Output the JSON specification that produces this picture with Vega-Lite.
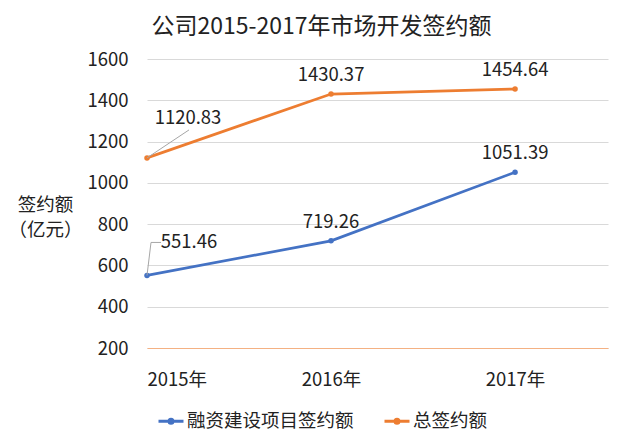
{
  "$schema": "https://vega.github.io/schema/vega-lite/v6.json",
  "autosize": {"type": "none"},
  "width": 461,
  "height": 289,
  "padding": {"left": 147, "top": 59, "right": 24, "bottom": 99},
  "background": "white",
  "config": {
    "font": "Noto Sans CJK SC",
    "view": {"stroke": null},
    "text": {"font": "Noto Sans CJK SC"}
  },
  "title": {
    "text": "公司2015-2017年市场开发签约额",
    "fontSize": 23,
    "fontWeight": "normal",
    "color": "#222222",
    "anchor": "middle",
    "dx": -56,
    "offset": 11,
    "font": "Noto Sans CJK SC"
  },
  "data": {
    "values": [
      {"year": 2015, "series": "融资建设项目签约额", "value": 551.46},
      {"year": 2016, "series": "融资建设项目签约额", "value": 719.26},
      {"year": 2017, "series": "融资建设项目签约额", "value": 1051.39},
      {"year": 2015, "series": "总签约额", "value": 1120.83},
      {"year": 2016, "series": "总签约额", "value": 1430.37},
      {"year": 2017, "series": "总签约额", "value": 1454.64}
    ]
  },
  "encoding": {
    "x": {
      "field": "year",
      "type": "quantitative",
      "scale": {"domain": [2015, 2017.505], "nice": false, "zero": false},
      "axis": {
        "title": null,
        "values": [2015, 2016, 2017],
        "labelExpr": "datum.value + '年'",
        "grid": false,
        "ticks": false,
        "domain": true,
        "domainColor": "#F4B183",
        "domainWidth": 1,
        "labelFontSize": 18.5,
        "labelColor": "#222222",
        "labelPadding": 22,
        "labelFont": "Noto Sans CJK SC"
      }
    },
    "y": {
      "field": "value",
      "type": "quantitative",
      "scale": {"domain": [200, 1600], "nice": false, "zero": false},
      "axis": {
        "values": [200, 400, 600, 800, 1000, 1200, 1400, 1600],
        "format": "d",
        "grid": true,
        "gridColor": "#D9D9D9",
        "gridWidth": 1,
        "ticks": false,
        "domain": false,
        "labelFontSize": 18.5,
        "labelColor": "#222222",
        "labelPadding": 19,
        "labelFont": "Noto Sans CJK SC",
        "title": ["签约额", "（亿元）"],
        "titleAngle": 0,
        "titleAlign": "center",
        "titleBaseline": "top",
        "titleX": -102,
        "titleY": 136,
        "titleFontSize": 18.5,
        "titleFontWeight": "normal",
        "titleColor": "#222222",
        "titleLineHeight": 25,
        "titleFont": "Noto Sans CJK SC"
      }
    },
    "color": {
      "field": "series",
      "type": "nominal",
      "scale": {"domain": ["融资建设项目签约额", "总签约额"], "range": ["#4472C4", "#ED7D31"]},
      "legend": {
        "title": null,
        "orient": "none",
        "direction": "horizontal",
        "legendX": 10,
        "legendY": 348,
        "symbolType": "M-1,0H1M-0.16,0A0.16,0.16 0 1,1 0.16,0A0.16,0.16 0 1,1 -0.16,0",
        "symbolSize": 625,
        "symbolStrokeWidth": 3,
        "labelFontSize": 18.5,
        "labelColor": "#222222",
        "labelFont": "Noto Sans CJK SC",
        "labelOffset": 2,
        "columnPadding": 24,
        "labelLimit": 400
      }
    }
  },
  "layer": [
    {
      "mark": {"type": "line", "strokeWidth": 2.75, "point": {"filled": true, "size": 30}}
    },
    {
      "transform": [{"filter": "datum.year == 2015 && datum.series == '总签约额'"}],
      "mark": {"type": "rule", "color": "#A6A6A6", "strokeWidth": 1, "x2Offset": 42, "y2Offset": -28},
      "encoding": {
        "x2": {"field": "year"},
        "y2": {"field": "value"},
        "color": {"value": "#A6A6A6"}
      }
    },
    {
      "transform": [{"filter": "datum.year == 2015 && datum.series == '融资建设项目签约额'"}],
      "mark": {"type": "rule", "color": "#A6A6A6", "strokeWidth": 1, "x2Offset": 4, "y2Offset": -33},
      "encoding": {
        "x2": {"field": "year"},
        "y2": {"field": "value"},
        "color": {"value": "#A6A6A6"}
      }
    },
    {
      "transform": [{"filter": "datum.year == 2015 && datum.series == '融资建设项目签约额'"}],
      "mark": {"type": "rule", "color": "#A6A6A6", "strokeWidth": 1, "xOffset": 4, "yOffset": -33, "x2Offset": 14, "y2Offset": -33},
      "encoding": {
        "x2": {"field": "year"},
        "y2": {"field": "value"},
        "color": {"value": "#A6A6A6"}
      }
    },
    {
      "transform": [{"filter": "datum.year != 2015"}],
      "mark": {"type": "text", "dy": -19, "fontSize": 18.5, "baseline": "middle", "align": "center"},
      "encoding": {
        "text": {"field": "value", "type": "quantitative", "format": ".2f"},
        "color": {"value": "#222222"}
      }
    },
    {
      "transform": [{"filter": "datum.year == 2015 && datum.series == '总签约额'"}],
      "mark": {"type": "text", "dx": 41, "dy": -40, "fontSize": 18.5, "baseline": "middle", "align": "center"},
      "encoding": {
        "text": {"field": "value", "type": "quantitative", "format": ".2f"},
        "color": {"value": "#222222"}
      }
    },
    {
      "transform": [{"filter": "datum.year == 2015 && datum.series == '融资建设项目签约额'"}],
      "mark": {"type": "text", "dx": 42, "dy": -33, "fontSize": 18.5, "baseline": "middle", "align": "center"},
      "encoding": {
        "text": {"field": "value", "type": "quantitative", "format": ".2f"},
        "color": {"value": "#222222"}
      }
    }
  ]
}
